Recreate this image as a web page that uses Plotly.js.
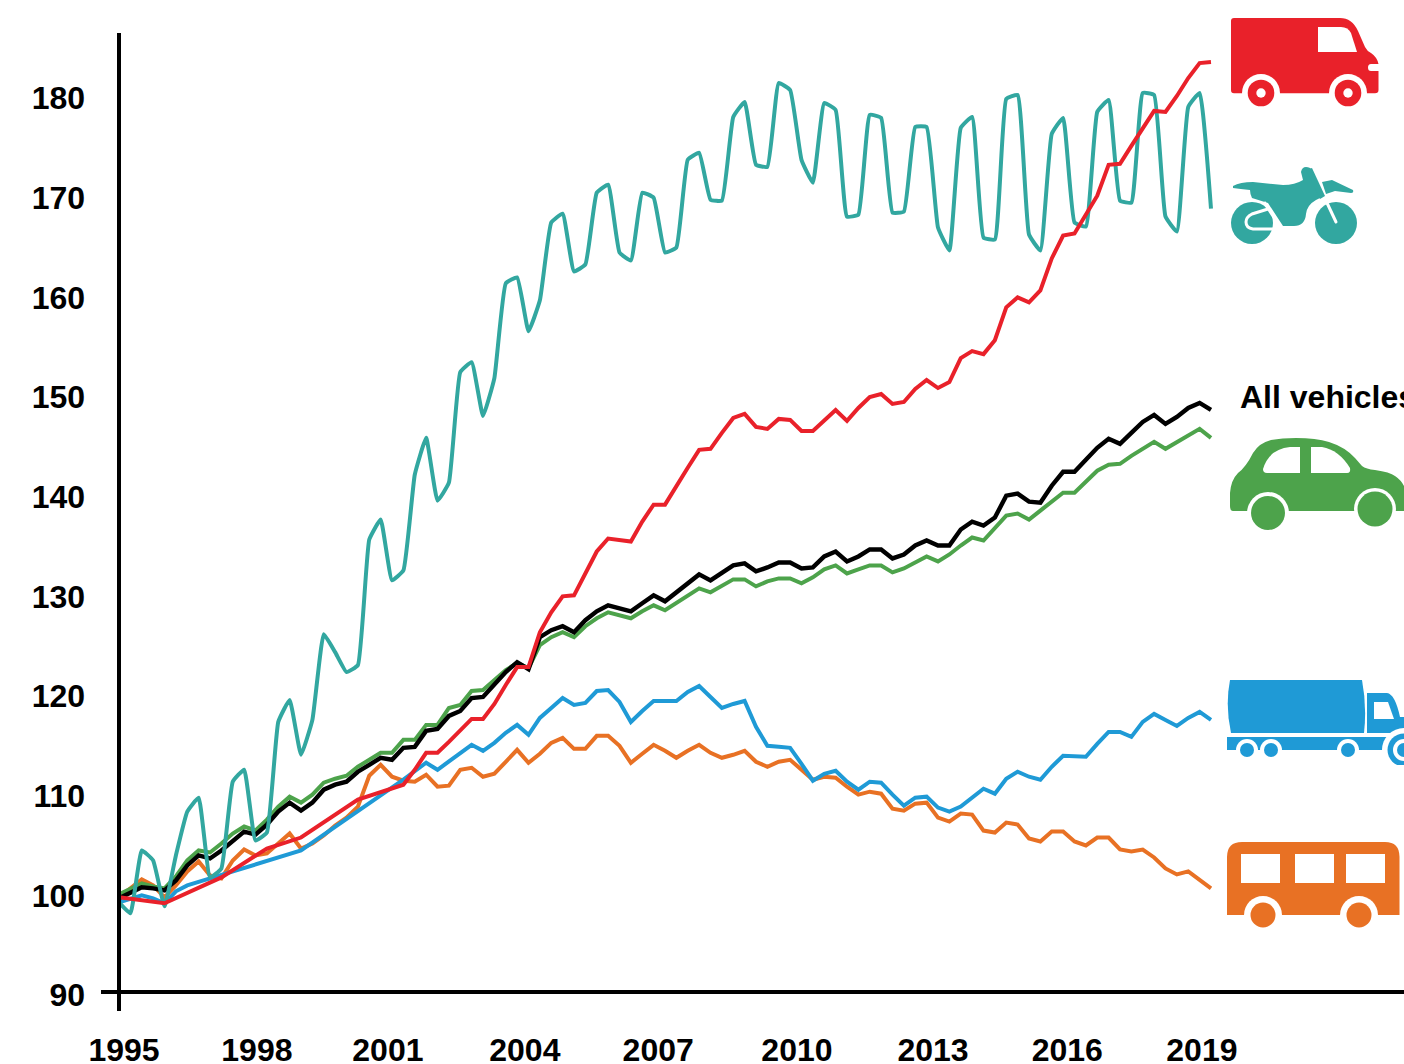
<!DOCTYPE html>
<html>
<head>
<meta charset="utf-8">
<script src="https://cdn.plot.ly/plotly-3.0.1.min.js"></script>
<style>html,body{margin:0;padding:0;background:#fff;overflow:hidden}#chart{width:1404px;height:1064px}</style>
</head>
<body>
<div id="chart"></div>
<script>
const tickLabels = ['1995','1998','2001','2004','2007','2010','2013','2016','2019'];
const tickYears = [1995.11,1998.03,2000.91,2003.92,2006.85,2009.90,2012.89,2015.84,2018.80];
const valueTicks = [90,100,110,120,130,140,150,160,170,180];

const motorcycles = [
99.3,98.2,104.5,103.5, 98.9,104.0,108.4,109.8, 101.8,102.7,111.4,112.6, 105.5,106.3,117.4,119.6,
114.1,117.6,126.2,124.4, 122.4,123.1,135.7,137.7, 131.6,132.6,142.2,145.9, 139.6,141.4,152.5,153.5,
148.1,151.9,161.4,162.0, 156.6,159.7,167.5,168.4, 162.6,163.3,170.5,171.3, 164.5,163.7,170.5,170.0,
164.5,165.0,173.8,174.5, 169.8,169.7,178.1,179.6, 173.3,173.1,181.5,180.8, 173.8,171.5,179.5,178.8,
168.1,168.3,178.3,178.0, 168.5,168.6,177.1,177.1, 167.0,164.7,177.0,178.1, 166.0,165.8,179.9,180.3,
166.3,164.7,176.4,178.0, 167.5,167.1,178.6,179.8, 169.7,169.5,180.5,180.3, 168.1,166.6,179.1,180.5,
168.9];

const vans = [
99.8,null,null,null, 99.2,null,null,null, null,101.8,null,null, null,104.7,null,null,
105.8,null,null,null, null,109.6,null,null, null,111.1,112.6,114.3, 114.3,115.4,116.5,117.7,
117.7,119.2,121.1,122.9, 122.9,126.4,128.4,130.0, 130.1,132.4,134.5,135.8, 135.7,135.5,137.5,139.2,
139.2,141.1,142.9,144.7, 144.8,146.4,147.9,148.3, 147.0,146.8,147.8,147.7, 146.6,146.6,147.7,148.7,
147.6,148.9,150.0,150.3, 149.3,149.5,150.8,151.7, 150.9,151.5,153.9,154.6, 154.3,155.7,159.0,160.0,
159.5,160.7,163.9,166.2, 166.4,168.3,170.2,173.3, 173.4,175.2,177.0,178.7, 178.6,180.2,182.0,183.5,
183.6];

const allVehicles = [
99.7,100.2,100.8,100.7, 100.5,101.5,103.0,104.0, 103.7,104.5,105.5,106.4, 106.1,107.1,108.4,109.3,
108.5,109.3,110.6,111.1, 111.4,112.4,113.1,113.8, 113.6,114.8,114.9,116.5, 116.7,118.0,118.5,119.8,
119.9,121.1,122.4,123.4, 122.7,125.9,126.6,127.0, 126.4,127.6,128.5,129.1, 128.8,128.5,129.3,130.1,
129.5,130.4,131.3,132.2, 131.6,132.4,133.1,133.3, 132.5,132.9,133.4,133.4, 132.8,132.9,134.0,134.5,
133.5,134.0,134.7,134.7, 133.8,134.2,135.1,135.6, 135.1,135.1,136.7,137.5, 137.1,137.9,140.1,140.3,
139.5,139.4,141.1,142.5, 142.5,143.7,144.9,145.8, 145.3,146.4,147.5,148.2, 147.3,148.0,148.9,149.4,
148.7];

const cars = [
100.1,100.6,101.2,100.9, 100.7,101.9,103.5,104.5, 104.3,105.2,106.2,106.9, 106.5,107.6,108.9,109.9,
109.3,110.1,111.3,111.7, 112.0,112.9,113.6,114.3, 114.3,115.6,115.6,117.1, 117.1,118.8,119.1,120.5,
120.6,121.6,122.6,123.3, 122.8,125.1,125.9,126.4, 125.9,127.0,127.8,128.4, 128.1,127.8,128.5,129.1,
128.6,129.3,130.1,130.8, 130.4,131.1,131.7,131.7, 131.0,131.5,131.8,131.8, 131.3,131.9,132.7,133.1,
132.3,132.7,133.1,133.1, 132.4,132.8,133.4,134.0, 133.5,134.2,135.1,135.9, 135.6,136.8,138.1,138.3,
137.7,138.6,139.5,140.4, 140.4,141.5,142.6,143.2, 143.3,144.1,144.8,145.5, 144.8,145.5,146.2,146.8,
145.9];

const lorries = [
99.3,99.6,100.0,99.7, 99.2,100.4,101.0,null, 101.7,null,null,null, null,null,null,null,
104.5,null,null,null, null,null,null,null, null,111.6,112.5,113.3, 112.6,113.4,114.2,115.1,
114.5,115.3,116.3,117.1, 116.1,117.8,118.8,119.8, 119.1,119.3,120.5,120.6, 119.4,117.4,118.5,119.5,
119.5,119.5,120.4,121.0, 119.9,118.8,119.2,119.5, 116.9,115.0,114.9,114.8, 113.2,111.5,112.2,112.5,
111.4,110.6,111.4,111.3, 110.1,109.0,109.8,109.9, 108.8,108.4,108.9,109.8, 110.7,110.2,111.7,112.4,
111.9,111.6,112.9,114.0, 114.0,113.9,115.2,116.4, 116.4,115.9,117.4,118.2, 117.6,117.0,117.8,118.4,
117.6];

const buses = [
99.8,100.7,101.6,101.0, 99.8,101.0,102.4,103.4, 102.0,101.7,103.5,104.6, 104.0,104.2,105.2,106.2,
104.7,105.2,106.0,107.0, 107.8,108.9,112.0,113.1, 111.9,111.5,111.4,112.1, 110.9,111.0,112.6,112.8,
111.9,112.2,113.4,114.6, 113.3,114.2,115.3,115.8, 114.7,114.7,116.0,116.0, 115.0,113.3,114.2,115.1,
114.5,113.8,114.5,115.1, 114.3,113.8,114.1,114.5, 113.4,112.9,113.4,113.6, 112.6,111.6,111.9,111.8,
110.9,110.1,110.4,110.2, 108.7,108.5,109.2,109.3, 107.8,107.4,108.2,108.1, 106.5,106.3,107.3,107.1,
105.7,105.4,106.4,106.4, 105.4,105.0,105.8,105.8, 104.6,104.4,104.6,103.8, 102.7,102.1,102.4,101.5,
100.7];

const RED='#E9212A', TEAL='#32A7A0', GREEN='#4DA34B', BLUE='#1F9AD6', ORANGE='#E87124', BLACK='#000000';
const quarters = motorcycles.map((_,i)=>1995+i/4);
function line(name,y,color,width,shape){
  return {type:'scatter',mode:'lines',name:name,x:quarters,y:y,connectgaps:true,hoverinfo:'skip',
    line:{color:color,width:width,shape:shape||'linear',smoothing:0.35}};
}
const traces=[
  line('Buses',buses,ORANGE,4),
  line('Lorries',lorries,BLUE,4),
  line('Cars',cars,GREEN,4),
  line('All vehicles',allVehicles,BLACK,4.4),
  line('Motorcycles',motorcycles,TEAL,4,'spline'),
  line('Vans',vans,RED,4)
];

const L=101,B=1011,T=33,W=1303,H=B-T;
function icon(x,y,w,h,body){
  const svg='<svg xmlns="http://www.w3.org/2000/svg" width="'+w+'" height="'+h+'" viewBox="'+x+' '+y+' '+w+' '+h+'">'+body+'</svg>';
  return {source:'data:image/svg+xml,'+encodeURIComponent(svg),xref:'paper',yref:'paper',
    x:(x-L)/W,y:(B-y)/H,sizex:w/W,sizey:h/H,xanchor:'left',yanchor:'top',sizing:'stretch',layer:'above'};
}
function c(x,y,r,f){return '<circle cx="'+x+'" cy="'+y+'" r="'+r+'" fill="'+f+'"/>';}
function p(d,f){return '<path d="'+d+'" fill="'+f+'"/>';}
const W_='#ffffff';
const van = p('M1231,21 Q1231,18 1234,18 H1340 Q1352,18 1358,31 L1365,47 Q1367,51 1371,53 Q1377,57 1378.5,64 V90 Q1378.5,93.3 1375,93.3 H1234 Q1231,93.3 1231,90 Z',RED)
  + p('M1318,27 H1341 Q1348,27 1351,33 L1357,52 H1318 Z',W_)
  + p('M1371,64 H1379 V71 H1371 Q1368,71 1368,67.5 Q1368,64 1371,64 Z',W_)
  + c(1261,93,19,W_)+c(1261,93,13.3,RED)+c(1261,93,4.7,W_)
  + c(1348,93,19,W_)+c(1348,93,13.3,RED)+c(1348,93,4.7,W_);
const moto = c(1252,223,21,TEAL)+c(1336,223,21,TEAL)
  + p('M1233,186 Q1240,182 1253,182 L1283,185 Q1295,185 1303,180 L1301,172 Q1302,167 1306,167 Q1310,167 1312,170 L1324,196 L1316,200 Q1307,205 1306,214 Q1305,226 1294,226 L1283,226 L1268,203 L1252,198 Q1250,194 1250,190 Q1240,189 1233,188 Z',TEAL)
  + p('M1322,182 L1332,180 L1353,190 Q1354,193 1351,193 L1335,191 L1326,194 Z',TEAL)
  + '<path d="M1268,209 L1252,214 Q1246,217 1246,222 Q1246,228 1253,229 L1275,229" fill="none" stroke="#fff" stroke-width="3"/>'
  + '<path d="M1264,202 L1282,230" fill="none" stroke="#fff" stroke-width="3"/>'
  + '<path d="M1312,171 L1336,222" fill="none" stroke="#fff" stroke-width="3" stroke-linecap="round"/>'
  + p('M1306,170 L1312,168 L1325,196 L1320,199 Z',TEAL);
const car = p('M1230,506 V493 Q1231,480 1238,473 Q1246,467 1253,453 Q1259,443 1271,440 Q1282,438 1296,438 Q1316,438 1329,442 Q1345,447 1355,458 L1362,466 Q1366,469 1375,470 Q1390,472 1395,476 Q1401,480 1404,486 V511 H1233 Q1230,511 1230,506 Z',GREEN)
  + p('M1263,469 Q1269,449 1290,447 L1300,447 V473 H1267 Q1263,473 1263,469 Z',W_)
  + p('M1311,447 H1322 Q1339,450 1350,468 Q1351,473 1347,473 H1311 Z',W_)
  + c(1268,513,21,W_)+c(1268,513,17,GREEN)
  + c(1375,509,21,W_)+c(1375,509,17.5,GREEN);
const truck = p('M1230,680 H1362 Q1367,706 1364,733 H1231 Q1225,706 1230,680 Z',BLUE)
  + p('M1367,693 H1387 Q1395,694 1400,717 H1404 V733 H1367 Z',BLUE)
  + p('M1374,702 H1388 L1394,719 H1374 Z',W_)
  + p('M1227,737 H1389 V750 H1227 Z',BLUE)
  + c(1404,750,22,W_)+c(1404,750,16.5,BLUE)+c(1404,750,11,W_)+c(1404,750,7,BLUE)
  + c(1247,750,11,W_)+c(1247,750,7,BLUE)
  + c(1271,750,11,W_)+c(1271,750,7,BLUE)
  + c(1348,750,11,W_)+c(1348,750,7,BLUE);
const bus = p('M1227,915 V857 Q1227,842 1242,842 H1385 Q1399.5,842 1399.5,857 V915 Z',ORANGE)
  + p('M1241,854 H1280 V883 H1241 Z',W_)
  + p('M1295,854 H1334 V883 H1295 Z',W_)
  + p('M1346,854 H1385 V883 H1346 Z',W_)
  + c(1263,915,19,W_)+c(1263,915,12.5,ORANGE)
  + c(1359,915,19,W_)+c(1359,915,12.5,ORANGE);

const tickFont={family:'"Liberation Sans", Arial, sans-serif',size:32,weight:700,color:'#000'};
const layout={
  width:1404,height:1064,
  margin:{l:L,r:0,t:T,b:1064-B,pad:0},
  paper_bgcolor:'#fff',plot_bgcolor:'#fff',showlegend:false,hovermode:false,
  xaxis:{type:'linear',range:[1994.604,2023.242],anchor:'free',position:(B-992)/H,
    showgrid:false,zeroline:false,showline:true,linecolor:'#000',linewidth:4,
    tickmode:'array',tickvals:tickYears,ticktext:tickLabels,ticks:'',ticklabelstandoff:29,tickfont:tickFont},
  yaxis:{range:[88.395,186.52],anchor:'free',position:(118.5-L)/W,
    showgrid:false,zeroline:false,showline:true,linecolor:'#000',linewidth:4,
    tickmode:'array',tickvals:valueTicks,ticktext:valueTicks.map(String),ticks:'',ticklabelstandoff:25,tickfont:tickFont},
  annotations:[{xref:'paper',yref:'paper',x:(1238-L)/W,y:(B-397)/H,xanchor:'left',yanchor:'middle',
    text:'All vehicles',showarrow:false,font:tickFont,align:'left'}],
  images:[
    icon(1225,10,179,100,van),
    icon(1225,160,179,90,moto),
    icon(1225,430,179,105,car),
    icon(1225,675,179,90,truck),
    icon(1225,835,179,100,bus)
  ]
};
Plotly.newPlot('chart',traces,layout,{displayModeBar:false,staticPlot:true});
</script>
</body>
</html>
